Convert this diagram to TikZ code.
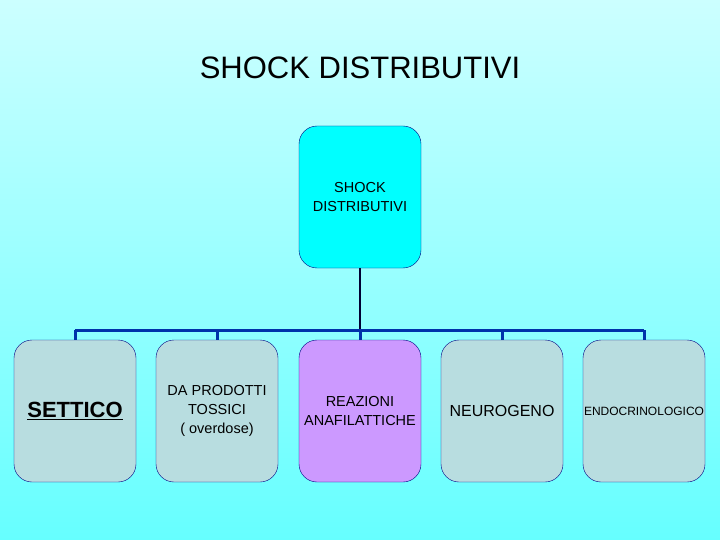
\documentclass[tikz,border=0pt]{standalone}
\usepackage{fontspec}
\setmainfont{Liberation Sans}
\begin{document}
\begin{tikzpicture}[x=1pt,y=-1pt,
  box/.style={draw=blue!50!black,rounded corners=18pt,minimum width=122pt,minimum height=142pt,align=center,inner sep=1pt,fill=gbox},
  link/.style={draw=lineblue,line width=3pt}]
\definecolor{gbox}{HTML}{B8DDE0}
\definecolor{topc}{HTML}{00FFFF}
\definecolor{purp}{HTML}{CC99FF}
\definecolor{lineblue}{HTML}{0033AA}
\definecolor{bgtop}{HTML}{CCFFFF}
\definecolor{bgbot}{HTML}{66FFFF}
\shade[top color=bgtop,bottom color=bgbot] (0,0) rectangle (720,540);
\useasboundingbox (0,0) rectangle (720,540);
\node[font=\fontsize{31}{34}\selectfont] (title) at (360,68) {SHOCK DISTRIBUTIVI};
\node[box,fill=topc,font=\fontsize{14.5}{19}\selectfont] (top) at (360,197) {SHOCK\\ DISTRIBUTIVI};
\node[box,font=\fontsize{22}{24}\selectfont\bfseries] (a) at (75,411) {\underline{SETTICO}};
\node[box,font=\fontsize{14.5}{19}\selectfont] (b) at (217,411) {DA PRODOTTI\\TOSSICI\\( overdose)};
\node[box,fill=purp,font=\fontsize{14.5}{19}\selectfont] (c) at (360,411) {REAZIONI\\ANAFILATTICHE};
\node[box,font=\fontsize{16}{18}\selectfont] (d) at (502,411) {NEUROGENO};
\node[box,font=\fontsize{12}{13}\selectfont] (e) at (644,411) {ENDOCRINOLOGICO};
\coordinate (bar) at (360,330);
\draw[line width=2pt,black!80!blue] (top.south) -- (bar);
\draw[link] (a.north |- bar) -- (e.north |- bar);
\foreach \n in {a,b,c,d,e} \draw[link] (\n.north |- bar) -- (\n.north);
\end{tikzpicture}
\end{document}
